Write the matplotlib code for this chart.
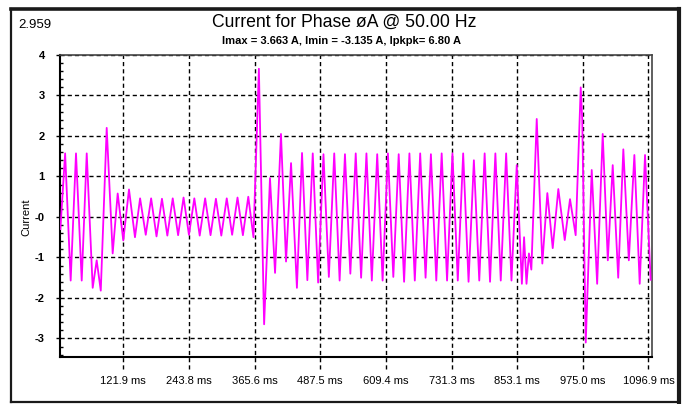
import matplotlib
matplotlib.use("Agg")
import matplotlib.pyplot as plt
from matplotlib.lines import Line2D
from matplotlib.ticker import MultipleLocator

plt.rcParams['font.family'] = ['Liberation Sans', 'DejaVu Sans']

# waveform turning points (time in ms, current in A)
t_ms = [5.0, 13.8, 24.1, 34.0, 44.6, 53.9, 65.0, 72.4, 80.0, 91.0,
        102.1, 111.4, 121.8, 132.4, 143.5, 153.0, 163.5, 173.5, 183.5, 193.6,
        203.6, 213.6, 223.6, 233.7, 243.7, 253.7, 263.7, 273.8, 283.8, 293.8,
        303.8, 313.9, 323.9, 333.9, 343.9, 353.9, 363.5, 373.6, 383.3, 394.2,
        403.6, 414.6, 424.0, 433.3, 444.2, 453.7, 463.6, 473.6, 483.6, 493.5,
        503.5, 513.5, 523.5, 533.4, 543.4, 553.4, 563.4, 573.3, 583.3, 593.3,
        603.3, 613.2, 623.2, 633.2, 643.2, 653.1, 663.1, 673.1, 683.1, 693.0,
        703.0, 713.0, 723.0, 733.0, 742.9, 752.9, 762.9, 772.8, 782.8, 792.8,
        802.8, 812.7, 822.7, 832.7, 842.6, 852.4, 861.9, 866.0, 870.5, 875.0,
        879.5, 889.5, 899.9, 909.2, 919.2, 929.6, 941.5, 951.3, 961.8, 971.2,
        974.0, 980.5, 991.6, 1001.7, 1012.0, 1021.5, 1030.6, 1040.8, 1050.3, 1060.5,
        1070.8, 1080.7, 1090.6, 1101.0]
current = [-0.3, 1.57, -1.57, 1.57, -1.57, 1.57, -1.75, -1.07, -1.82, 2.2,
           -0.9, 0.58, -0.58, 0.68, -0.5, 0.46, -0.44, 0.46, -0.48, 0.45,
           -0.46, 0.46, -0.45, 0.48, -0.44, 0.46, -0.46, 0.46, -0.45, 0.45,
           -0.46, 0.46, -0.44, 0.48, -0.45, 0.5, -0.5, 3.66, -2.65, 0.96,
           -1.38, 2.05, -1.1, 1.33, -1.75, 1.58, -1.56, 1.57, -1.62, 1.55,
           -1.48, 1.57, -1.57, 1.55, -1.4, 1.57, -1.5, 1.57, -1.57, 1.55,
           -1.57, 1.57, -1.48, 1.55, -1.6, 1.57, -1.57, 1.57, -1.5, 1.55,
           -1.57, 1.57, -1.57, 1.57, -1.57, 1.57, -1.6, 1.4, -1.57, 1.57,
           -1.6, 1.57, -1.57, 1.57, -1.57, 1.28, -1.65, -0.5, -1.65, -0.9,
           -1.3, 2.42, -1.15, 0.59, -0.77, 0.69, -0.57, 0.44, -0.45, 3.2,
           2.4, -3.1, 1.16, -1.65, 2.05, -1.07, 1.28, -1.5, 1.67, -1.07,
           1.53, -1.65, 1.53, -1.55]

xtick_ms = [121.9, 243.8, 365.6, 487.5, 609.4, 731.3, 853.1, 975.0, 1096.9]
xtick_labels = ["121.9 ms", "243.8 ms", "365.6 ms", "487.5 ms", "609.4 ms",
                "731.3 ms", "853.1 ms", "975.0 ms", "1096.9 ms"]
ytick_vals = [-3, -2, -1, 0, 1, 2, 3, 4]
ytick_labels = ["-3", "-2", "-1", "-0", "1", "2", "3", "4"]

fig = plt.figure(figsize=(6.85, 4.04), dpi=100)
ax = fig.add_axes([0.0876, 0.1171, 0.8638, 0.7468])

ax.plot(t_ms, current, color='#ff00ff', lw=1.3, zorder=3)

ax.set_xlim(4.3, 1103)
ax.set_ylim(-3.45, 4.0)

grid_kw = dict(color='black', lw=1.0, linestyle=(0, (3, 2.2)), zorder=1)
for x in xtick_ms:
    ax.axvline(x, ymin=-0.04, ymax=1, clip_on=False, **grid_kw)
for y in ytick_vals:
    ax.axhline(y, **grid_kw)

ax.set_xticks(xtick_ms)
ax.set_xticklabels(xtick_labels, fontsize=8)
ax.tick_params(axis='x', length=0, pad=14)

ax.set_yticks(ytick_vals)
ax.set_yticklabels(ytick_labels, fontsize=8, fontweight='bold')
ax.yaxis.set_minor_locator(MultipleLocator(0.2))
ax.tick_params(axis='y', which='major', direction='out', length=3, width=1, pad=8)
ax.tick_params(axis='y', which='minor', direction='in', length=2.5, width=1)

for side in ['left', 'bottom']:
    ax.spines[side].set_color('black')
    ax.spines[side].set_linewidth(1.5)
for side in ['top', 'right']:
    ax.spines[side].set_color('#444444')
    ax.spines[side].set_linewidth(1.2)

fig.text(0.039, 0.463, "Current", rotation=90, ha='center', va='center', fontsize=8)
fig.text(0.502, 0.946, "Current for Phase øA @ 50.00 Hz", ha='center', va='center', fontsize=12.7)
fig.text(0.4985, 0.899, "Imax = 3.663 A, Imin = -3.135 A, Ipkpk= 6.80 A",
         ha='center', va='center', fontsize=8, fontweight='bold')
fig.text(0.0263, 0.938, "2.959", ha='left', va='center', fontsize=9.5)

# outer border
W, H = 685.0, 404.0
l, r, t, b = 11 / W, 679 / W, 1 - 9 / H, 1 - 402 / H
fig.add_artist(Line2D([l, r], [t, t], color='#1a1a1a', lw=2.6))
fig.add_artist(Line2D([r, r], [t, b], color='#1a1a1a', lw=3.0))
fig.add_artist(Line2D([l, l], [t, b], color='#1a1a1a', lw=1.6))
fig.add_artist(Line2D([l, r], [b, b], color='#1a1a1a', lw=1.6))

fig.savefig('out.png', dpi=100)
